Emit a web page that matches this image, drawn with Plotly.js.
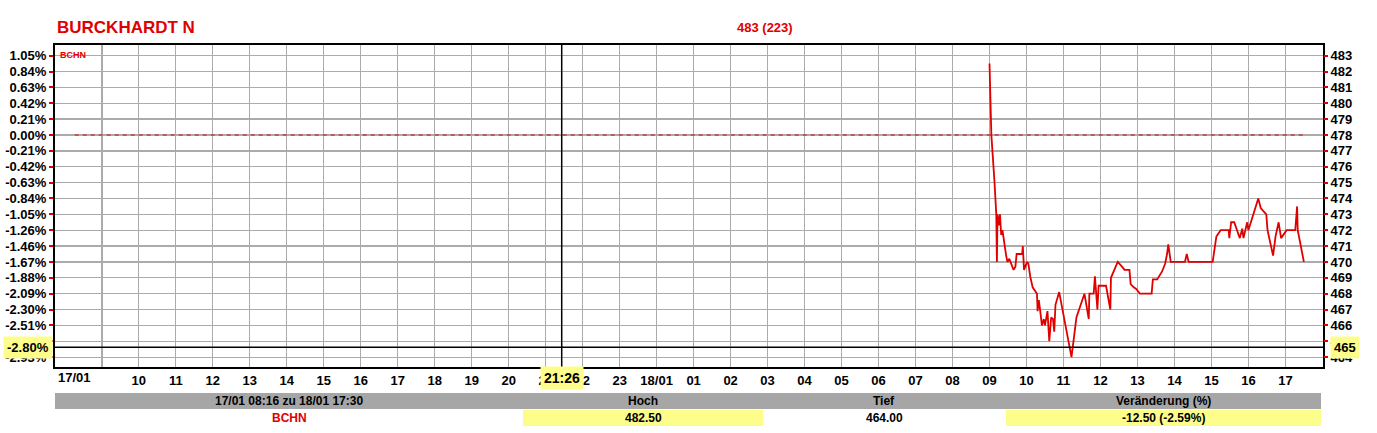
<!DOCTYPE html>
<html>
<head>
<meta charset="utf-8">
<script src="https://cdn.plot.ly/plotly-3.0.1.min.js"></script>
<style>
html,body{margin:0;padding:0;background:#fff;}
#chart{width:1377px;height:433px;}
</style>
</head>
<body>
<div id="chart"></div>
<script>
// ---------------- data ----------------
const titleText = 'BURCKHARDT N';
const headerText = '483 (223)';
const symbol = 'BCHN';
const dayOne = '2024-01-17';
const dayTwo = '2024-01-18';
const sessionStart = '08:16';
const sessionEnd = '17:30';
const refPrice = 478;            // 0.00% line
const cursorTime = '21:26';      // crosshair on 17/01
const cursorPrice = 464.62;      // crosshair price (-2.80%)
const cursorPctLabel = '-2.80%';
const cursorPriceLabel = '465';

const times = ['09:00','09:03','09:08','09:11','09:12','09:13','09:15','09:17','09:19','09:21','09:27','09:29','09:32','09:39','09:42','09:44','09:53','09:54','09:56','10:01','10:03','10:06','10:10','10:17','10:18','10:20','10:22','10:25','10:28','10:30','10:34','10:37','10:40','10:43','10:45','10:47','10:53','11:13','11:21','11:34','11:41','11:42','11:49','11:51','11:55','11:57','12:09','12:16','12:17','12:22','12:28','12:35','12:39','12:47','12:49','12:54','12:58','13:04','13:23','13:25','13:32','13:40','13:45','13:48','13:50','13:54','14:17','14:20','14:23','15:02','15:08','15:15','15:28','15:29','15:32','15:37','15:46','15:50','15:52','15:58','16:00','16:04','16:08','16:12','16:16','16:20','16:29','16:31','16:40','16:44','16:49','16:53','17:02','17:16','17:19','17:20','17:30'];
const prices = [482.5,478.0,475.1,473.0,470.0,473.0,472.3,473.0,471.7,472.0,470.4,470.0,470.2,469.5,469.7,470.5,470.5,471.0,469.5,470.0,469.9,469.1,468.4,468.0,466.9,467.6,467.0,466.0,466.4,466.0,466.9,465.0,466.5,466.4,465.6,467.3,468.1,464.0,466.5,468.0,466.4,468.0,468.0,469.1,467.0,468.5,468.5,467.0,469.0,469.5,470.0,469.7,469.5,469.5,468.6,468.4,468.3,468.0,468.0,468.9,468.9,469.4,469.9,470.5,471.1,470.0,470.0,470.5,470.0,470.0,471.6,472.0,472.0,471.5,472.5,472.5,471.5,472.1,471.5,472.5,472.0,472.5,473.0,473.5,474.0,473.4,473.0,472.0,470.4,471.6,472.5,471.5,472.0,472.0,473.5,472.0,470.0];

const priceTicks = [464,465,466,467,468,469,470,471,472,473,474,475,476,477,478,479,480,481,482,483];
const hourLabels = ['','10','11','12','13','14','15','16','17','18','19','20','21','22','23','18/01','01','02','03','04','05','06','07','08','09','10','11','12','13','14','15','16','17'];

const tableHeaders = ['17/01 08:16 zu 18/01 17:30','Hoch','Tief','Veränderung (%)'];
const tableValues = ['BCHN','482.50','464.00','-12.50 (-2.59%)'];

// ---------------- geometry helpers ----------------
const W = 1377, H = 433;
const M = {l:55, r:54, t:45, b:66};
const PW = W - M.l - M.r, PH = H - M.t - M.b;
const xp = px => (px - M.l) / PW;
const yp = py => (H - M.b - py) / PH;

const RED = '#e00000';
const YEL = '#fdfd8c';
const FONT = 'Liberation Sans, Arial, sans-serif';

// x ticks: every hour from 17/01 09:00
const pad = n => String(n).padStart(2,'0');
const tickVals = hourLabels.map((_, i) => {
  const h = 9 + i;
  const day = h >= 24 ? dayTwo : dayOne;
  return day + ' ' + pad(h % 24) + ':00';
});
const pctText = priceTicks.map(p => {
  const v = (p / refPrice - 1) * 100;
  return (Math.abs(v) < 0.005 ? 0 : v).toFixed(2) + '%';
});

const xs = times.map(t => dayTwo + ' ' + t);

const traces = [
  {
    x: [dayOne + ' ' + sessionStart, dayTwo + ' ' + sessionEnd],
    y: [refPrice, refPrice],
    yaxis: 'y2',
    mode: 'lines',
    line: {color: RED, width: 1, dash: '4px,4px'},
    hoverinfo: 'skip'
  },
  {
    x: xs, y: prices,
    mode: 'lines',
    line: {color: RED, width: 1.8},
    hoverinfo: 'skip'
  }
];

const yRange = [463.38, 483.67];
const xRange = [dayOne + ' 07:44', dayTwo + ' 18:01'];

const tickFont = {family: FONT, size: 13, color: '#000', weight: 'bold'};

const layout = {
  width: W, height: H,
  margin: M,
  paper_bgcolor: '#fff', plot_bgcolor: '#fff',
  showlegend: false,
  hovermode: false,
  xaxis: {
    type: 'date', range: xRange,
    tickmode: 'array', tickvals: tickVals, ticktext: hourLabels,
    showgrid: true, gridcolor: '#ababab', gridwidth: 1.3,
    ticks: '', tickfont: tickFont,
    showline: true, linecolor: '#000', linewidth: 2, mirror: true,
    zeroline: false
  },
  yaxis: {
    range: yRange,
    tickmode: 'array', tickvals: priceTicks, ticktext: pctText,
    showgrid: true, gridcolor: '#ababab', gridwidth: 1.3,
    ticks: 'outside', ticklen: 4, tickcolor: RED, tickwidth: 2,
    tickfont: tickFont,
    showline: true, linecolor: '#000', linewidth: 2, mirror: true,
    zeroline: false
  },
  yaxis2: {
    range: yRange, overlaying: 'y', side: 'right',
    tickmode: 'array', tickvals: priceTicks, ticktext: priceTicks.map(String),
    showgrid: false,
    ticks: 'outside', ticklen: 4, tickcolor: RED, tickwidth: 2,
    tickfont: tickFont,
    zeroline: false
  },
  shapes: [
    // crosshair
    {type:'line', xref:'paper', yref:'y', x0:0, x1:1, y0:cursorPrice, y1:cursorPrice, line:{color:'#000', width:1.5}},
    {type:'line', xref:'x', yref:'paper', x0:dayOne+' '+cursorTime, x1:dayOne+' '+cursorTime, y0:0, y1:1, line:{color:'#000', width:1.5}},
    // table
    {type:'rect', xref:'paper', yref:'paper', x0:xp(55), x1:xp(1321), y0:yp(409), y1:yp(393), fillcolor:'#a6a6a6', line:{width:0}, layer:'above'},
    {type:'rect', xref:'paper', yref:'paper', x0:xp(523), x1:xp(763), y0:yp(426), y1:yp(410), fillcolor:YEL, line:{width:0}, layer:'above'},
    {type:'rect', xref:'paper', yref:'paper', x0:xp(1006), x1:xp(1321), y0:yp(426), y1:yp(410), fillcolor:YEL, line:{width:0}, layer:'above'}
  ],
  annotations: []
};

const ann = (text, x, y, opts) => Object.assign({
  text: text, xref:'paper', yref:'paper', x: xp(x), y: yp(y),
  showarrow:false, xanchor:'center', yanchor:'middle',
  font:{family:FONT, size:12, color:'#000', weight:'bold'}
}, opts || {});

const colCenters = [289, 643, 884, 1163];
tableHeaders.forEach((t, i) => layout.annotations.push(ann(t, colCenters[i], 401)));
tableValues.forEach((t, i) => layout.annotations.push(ann(t, colCenters[i], 418,
  {font:{family:FONT, size:12, color: i === 0 ? RED : '#000', weight:'bold'}})));

layout.annotations.push(ann(titleText, 55, 27, {xanchor:'left', font:{family:FONT, size:17, color:RED, weight:'bold'}}));
layout.annotations.push(ann(headerText, 765, 27, {font:{family:FONT, size:13, color:RED, weight:'bold'}}));
layout.annotations.push(ann(symbol, 58, 55, {xanchor:'left', font:{family:FONT, size:9, color:RED, weight:'bold'}}));
layout.annotations.push({
  text: '17/01', xref:'x', yref:'paper', x: dayOne + ' ' + sessionStart, y: yp(378),
  showarrow:false, xanchor:'center', yanchor:'middle', font: tickFont
});
layout.annotations.push({
  text: cursorTime, xref:'x', yref:'paper', x: dayOne + ' ' + cursorTime, y: yp(378),
  showarrow:false, xanchor:'center', yanchor:'middle', bgcolor: YEL, borderpad: 3,
  font: {family:FONT, size:14, color:'#000', weight:'bold'}
});
layout.annotations.push({
  text: cursorPctLabel, xref:'paper', yref:'y', x: xp(28), y: cursorPrice,
  showarrow:false, xanchor:'center', yanchor:'middle', bgcolor: YEL, borderpad: 3,
  font: {family:FONT, size:13, color:'#000', weight:'bold'}
});
layout.annotations.push({
  text: cursorPriceLabel, xref:'paper', yref:'y', x: xp(1345), y: cursorPrice,
  showarrow:false, xanchor:'center', yanchor:'middle', bgcolor: YEL, borderpad: 3,
  font: {family:FONT, size:13, color:'#000', weight:'bold'}
});

Plotly.newPlot('chart', traces, layout, {staticPlot:true, displayModeBar:false});
</script>
</body>
</html>
